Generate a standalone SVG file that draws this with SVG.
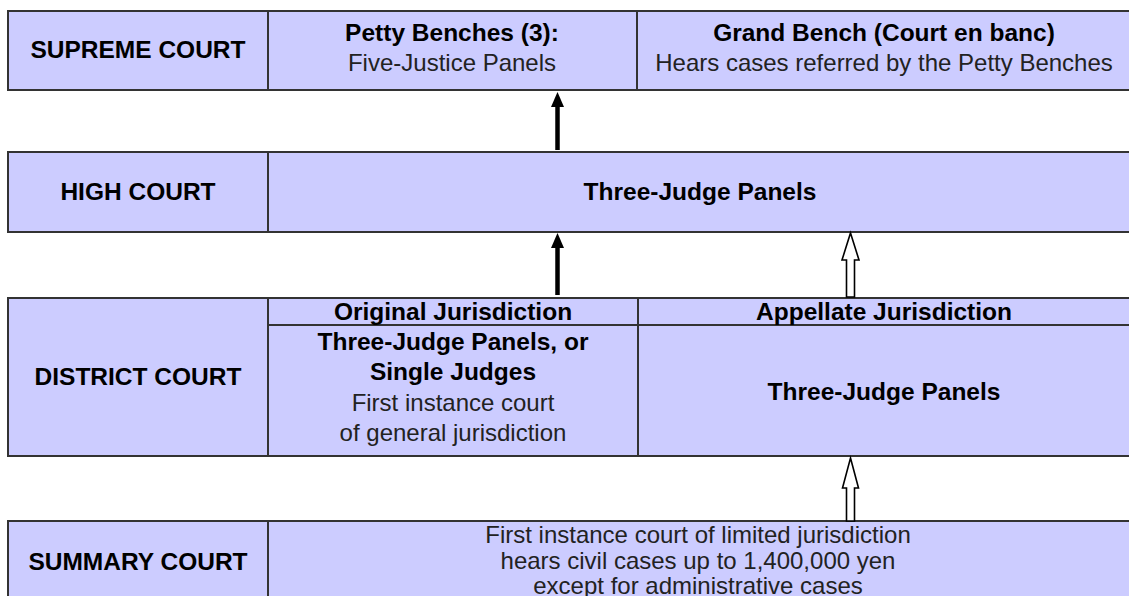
<svg xmlns="http://www.w3.org/2000/svg" width="1129" height="596" viewBox="0 0 1129 596">
<style>
.box{fill:#ccccff;stroke:#333;stroke-width:2}
.ln{stroke:#333;stroke-width:2;fill:none}
.b{font-family:"Liberation Sans",Arial,sans-serif;font-weight:bold;font-size:24.5px;fill:#000;text-anchor:middle}
.r{font-family:"Liberation Sans",Arial,sans-serif;font-size:24px;fill:#222;text-anchor:middle}
.shaft{stroke:#000;stroke-width:4.5}
.solid{fill:#000}
.open{fill:#fff;stroke:#000;stroke-width:1.6;stroke-linejoin:miter}
</style>
<rect width="1129" height="596" fill="#fff"/>
<g id="supreme">
<rect class="box" x="8" y="11" width="1130" height="79"/>
<line class="ln" x1="268" y1="11" x2="268" y2="90"/>
<line class="ln" x1="637" y1="11" x2="637" y2="90"/>
<text class="b" x="138" y="58">SUPREME COURT</text>
<text class="b" x="452" y="41">Petty Benches (3):</text>
<text class="r" x="452" y="71">Five-Justice Panels</text>
<text class="b" x="884" y="41">Grand Bench (Court en banc)</text>
<text class="r" x="884" y="71">Hears cases referred by the Petty Benches</text>
</g>
<g id="high">
<rect class="box" x="8" y="152" width="1130" height="80"/>
<line class="ln" x1="268" y1="152" x2="268" y2="232"/>
<text class="b" x="138" y="200">HIGH COURT</text>
<text class="b" x="700" y="200">Three-Judge Panels</text>
</g>
<g id="district">
<rect class="box" x="8" y="298" width="1130" height="158"/>
<line class="ln" x1="268" y1="298" x2="268" y2="456"/>
<line class="ln" x1="638" y1="298" x2="638" y2="456"/>
<line class="ln" x1="268" y1="325" x2="1138" y2="325"/>
<text class="b" x="138" y="385">DISTRICT COURT</text>
<text class="b" x="453" y="320">Original Jurisdiction</text>
<text class="b" x="884" y="320">Appellate Jurisdiction</text>
<text class="b" x="453" y="350">Three-Judge Panels, or</text>
<text class="b" x="453" y="380">Single Judges</text>
<text class="r" x="453" y="411">First instance court</text>
<text class="r" x="453" y="441">of general jurisdiction</text>
<text class="b" x="884" y="400">Three-Judge Panels</text>
</g>
<g id="summary">
<rect class="box" x="8" y="521" width="1130" height="90"/>
<line class="ln" x1="268" y1="521" x2="268" y2="611"/>
<text class="b" x="138" y="570">SUMMARY COURT</text>
<text class="r" x="698" y="543">First instance court of limited jurisdiction</text>
<text class="r" x="698" y="569">hears civil cases up to 1,400,000 yen</text>
<text class="r" x="698" y="594">except for administrative cases</text>
</g>
<g id="connectors">
<line class="shaft" x1="557.5" y1="150" x2="557.5" y2="104"/>
<polygon class="solid" points="557.5,92 551,107 564,107"/>
<line class="shaft" x1="557.5" y1="295" x2="557.5" y2="245"/>
<polygon class="solid" points="557.5,233 551,248 564,248"/>
<polygon class="open" points="850.5,233 859,260 854.5,260 854.5,297 846.5,297 846.5,260 842,260"/>
<polygon class="open" points="850.5,458 858.5,488 854.5,488 854.5,521 846.5,521 846.5,488 842.5,488"/>
</g>
</svg>
